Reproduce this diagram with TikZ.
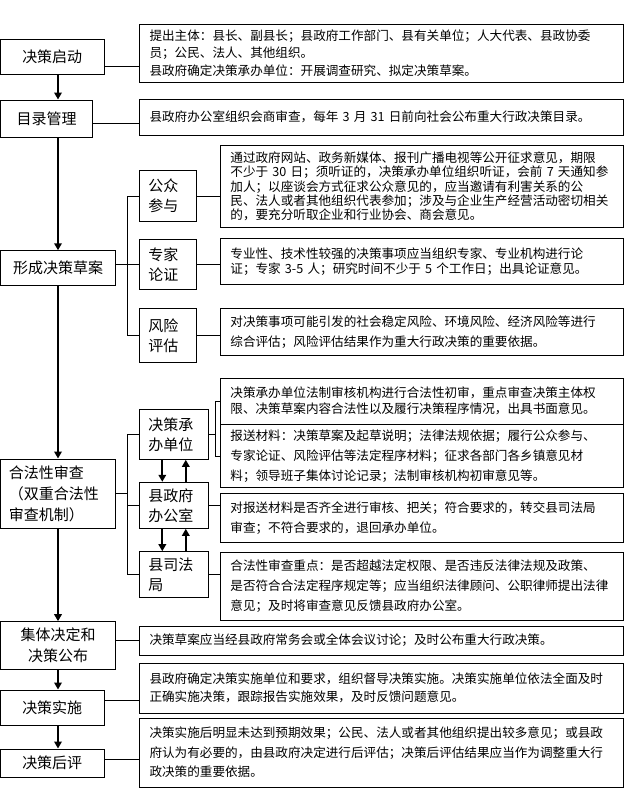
\documentclass[tikz,border=0pt]{standalone}
\usepackage{fontspec}
\newfontfamily\cjk{Noto Sans CJK SC}
\usetikzlibrary{arrows.meta}
\begin{document}
\begin{tikzpicture}[x=1pt,y=-1pt,
  lab/.style={draw, line width=1pt, font=\cjk\fontsize{15}{21}\selectfont, align=center, inner sep=0pt},
  sub/.style={draw, line width=1pt, font=\cjk\fontsize{15}{20}\selectfont, align=left, inner xsep=9pt, inner ysep=0pt},
  desc/.style={draw, line width=1pt, font=\cjk\fontsize{12.6}{#1}\selectfont, align=left, inner xsep=10pt, inner ysep=0pt},
  wide/.style={text width=464pt},
  narrow/.style={text width=383.1pt},
  conn/.style={line width=1pt},
  arr/.style={line width=2pt, -{Triangle[length=7pt,width=7.5pt]}}
]
\useasboundingbox (0,0) rectangle (625,788);
\fill[white] (0,0) rectangle (625,788);

% helper columns
\coordinate (mx) at (58,0);
\coordinate (bx) at (127.3,0);
\coordinate (brk) at (215,0);

% left main boxes
\node[lab, minimum width=103.5pt, minimum height=35pt] (nStart) at (52.25,56.5) {决策启动};
\node[lab, minimum width=92pt, minimum height=37pt] (nDir) at (46.5,118.5) {目录管理};
\node[lab, minimum width=115pt, minimum height=34.3pt] (nDraft) at (58,267.9) {形成决策草案};
\node[lab, align=left, text width=98pt, minimum width=115pt, minimum height=69pt] (nLegal) at (58,493.5) {合法性审查\\（双重合法性\\审查机制）};
\node[lab, minimum width=115pt, minimum height=47.6pt] (nColl) at (58,645.5) {集体决定和\\决策公布};
\node[lab, minimum width=103.5pt, minimum height=35pt] (nImpl) at (52.25,707.5) {决策实施};
\node[lab, minimum width=103.5pt, minimum height=28pt] (nEval) at (52.25,763) {决策后评};

% sub boxes (draft)
\node[sub, text width=39.4pt, minimum height=51pt] (nPub) at (168,196.2) {公众\\参与};
\node[sub, text width=39.4pt, minimum height=49.7pt] (nExp) at (168,264.15) {专家\\论证};
\node[sub, text width=39.4pt, minimum height=54.4pt] (nRisk) at (168,335.5) {风险\\评估};

% sub boxes (legal)
\node[sub, text width=51pt, minimum height=50pt] (nUnd) at (173.8,434.3) {决策承\\办单位};
\node[sub, text width=51pt, minimum height=46pt] (nOff) at (173.8,505.3) {县政府\\办公室};
\node[sub, text width=51pt, minimum height=45.6pt] (nJus) at (173.8,574.5) {县司法\\局};

% description boxes
\node[desc=17.5, wide, minimum height=58pt] (dA) at (381.5,53) {提出主体：县长、副县长；县政府工作部门、县有关单位；人大代表、县政协委\\员；公民、法人、其他组织。\\县政府确定决策承办单位：开展调查研究、拟定决策草案。};
\node[desc=17, wide, minimum height=36pt] (dB) at (381.5,117) {县政府办公室组织会商审查，每年 3 月 31 日前向社会公布重大行政决策目录。};
\node[desc=14.3, narrow, minimum height=81.6pt] (dPub) at (421.95,186.5) {通过政府网站、政务新媒体、报刊广播电视等公开征求意见，期限\\不少于 30 日；须听证的，决策承办单位组织听证，会前 7 天通知参\\加人；以座谈会方式征求公众意见的，应当邀请有利害关系的公\\民、法人或者其他组织代表参加；涉及与企业生产经营活动密切相关\\的，要充分听取企业和行业协会、商会意见。};
\node[desc=15, narrow, minimum height=46pt] (dExp) at (421.95,261.3) {专业性、技术性较强的决策事项应当组织专家、专业机构进行论\\证；专家 3-5 人；研究时间不少于 5 个工作日；出具论证意见。};
\node[desc=20, narrow, minimum height=47.4pt] (dRisk) at (421.95,332) {对决策事项可能引发的社会稳定风险、环境风险、经济风险等进行\\综合评估；风险评估结果作为重大行政决策的重要依据。};
\node[desc=16, narrow, minimum height=46pt] (dD) at (421.95,401.3) {决策承办单位法制审核机构进行合法性初审，重点审查决策主体权\\限、决策草案内容合法性以及履行决策程序情况，出具书面意见。};
\node[desc=20, narrow, minimum height=63.4pt] (dE) at (421.95,456) {报送材料：决策草案及起草说明；法律法规依据；履行公众参与、\\专家论证、风险评估等法定程序材料；征求各部门各乡镇意见材\\料；领导班子集体讨论记录；法制审核机构初审意见等。};
\node[desc=20, narrow, minimum height=49pt] (dF) at (421.95,517.8) {对报送材料是否齐全进行审核、把关；符合要求的，转交县司法局\\审查；不符合要求的，退回承办单位。};
\node[desc=20, narrow, minimum height=67.3pt] (dG) at (421.95,586.35) {合法性审查重点：是否超越法定权限、是否违反法律法规及政策、\\是否符合合法定程序规定等；应当组织法律顾问、公职律师提出法律\\意见；及时将审查意见反馈县政府办公室。};
\node[desc=17, wide, minimum height=29pt] (dH) at (381.5,640.5) {决策草案应当经县政府常务会或全体会议讨论；及时公布重大行政决策。};
\node[desc=17.5, wide, minimum height=50pt] (dI) at (381.5,688) {县政府确定决策实施单位和要求，组织督导决策实施。决策实施单位依法全面及时\\正确实施决策，跟踪报告实施效果，及时反馈问题意见。};
\node[desc=19.5, wide, minimum height=69pt] (dJ) at (381.5,752.5) {决策实施后明显未达到预期效果；公民、法人或者其他组织提出较多意见；或县政\\府认为有必要的，由县政府决定进行后评估；决策后评估结果应当作为调整重大行\\政决策的重要依据。};

% main flow arrows
\draw[arr] (nStart.south -| mx) -- (nDir.north -| mx);
\draw[arr] (nDir.south -| mx) -- (nDraft.north -| mx);
\draw[arr] (nDraft.south -| mx) -- (nLegal.north -| mx);
\draw[arr] (nLegal.south -| mx) -- (nColl.north -| mx);
\draw[arr] (nColl.south -| mx) -- (nImpl.north -| mx);
\draw[arr] (nImpl.south -| mx) -- (nEval.north -| mx);

% left boxes to descriptions
\draw[conn] ([yshift=-9.5pt]nStart.east) -- ([yshift=-9.5pt]nStart.east -| dA.west);
\draw[conn] ([yshift=-4.5pt]nDir.east) -- ([yshift=-4.5pt]nDir.east -| dB.west);
\draw[conn] (nColl.east |- dH.west) -- (dH.west);
\draw[conn] ([yshift=7pt]nImpl.east) -- ([yshift=7pt]nImpl.east -| dI.west);
\draw[conn] ([yshift=3.7pt]nEval.east) -- ([yshift=3.7pt]nEval.east -| dJ.west);

% draft branch
\draw[conn] (nDraft.east |- nExp.west) -- (nExp.west);
\draw[conn] (nPub.west) -| (bx |- nRisk.west) -- (nRisk.west);
\draw[conn] (nPub.east) -- (nPub.east -| dPub.west);
\draw[conn] (nExp.east) -- (nExp.east -| dExp.west);
\draw[conn] (nRisk.east) -- (nRisk.east -| dRisk.west);

% legal branch
\draw[conn] (nLegal.east) -- (nLegal.east -| bx);
\draw[conn] (nUnd.west) -| (bx |- nJus.west) -- (nJus.west);
\draw[conn] (nOff.west) -- (nOff.west -| bx);
\draw[conn] (nUnd.east) -- (nUnd.east -| brk);
\draw[conn] (dD.west) -| (brk |- dE.west) -- (dE.west);
\draw[conn] (nOff.east) -- (nOff.east -| dF.west);
\draw[conn] (nJus.east) -- (nJus.east -| dG.west);

% arrows between legal sub boxes
\draw[arr] ([xshift=-11.5pt]nUnd.south) -- ([xshift=-11.5pt]nOff.north);
\draw[arr] ([xshift=12pt]nOff.north) -- ([xshift=12pt]nUnd.south);
\draw[arr] ([xshift=-11.5pt]nOff.south) -- ([xshift=-11.5pt]nJus.north);
\draw[arr] ([xshift=12pt]nJus.north) -- ([xshift=12pt]nOff.south);
\end{tikzpicture}
\end{document}
